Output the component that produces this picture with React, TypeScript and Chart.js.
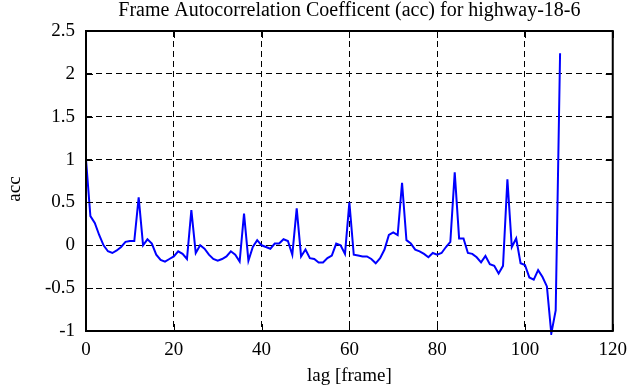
import React, { useEffect, useRef } from "react";
import { Chart, registerables } from "chart.js";

Chart.register(...registerables);

const TITLE = "Frame Autocorrelation Coefficent (acc) for highway-18-6";
const X_LABEL = "lag [frame]";
const Y_LABEL = "acc";
const X_TICKS = [0, 20, 40, 60, 80, 100, 120];
const Y_TICKS = [-1, -0.5, 0, 0.5, 1, 1.5, 2, 2.5];

// acc value for lag = index
const ACC = [
  1.0, 0.34, 0.26, 0.12, 0.0, -0.07, -0.09, -0.06, -0.02, 0.04,
  0.05, 0.05, 0.56, 0.0, 0.07, 0.02, -0.11, -0.17, -0.19, -0.16,
  -0.13, -0.07, -0.1, -0.16, 0.41, -0.09, 0.0, -0.04, -0.11, -0.16,
  -0.18, -0.16, -0.13, -0.07, -0.11, -0.19, 0.37, -0.18, -0.02, 0.06,
  0.0, -0.02, -0.04, 0.02, 0.02, 0.07, 0.05, -0.11, 0.43, -0.13,
  -0.05, -0.15, -0.16, -0.2, -0.2, -0.15, -0.12, 0.02, 0.0, -0.1,
  0.5, -0.11, -0.12, -0.13, -0.13, -0.16, -0.21, -0.15, -0.05, 0.12,
  0.15, 0.12, 0.73, 0.06, 0.02, -0.05, -0.07, -0.1, -0.14, -0.09,
  -0.11, -0.09, -0.02, 0.04, 0.85, 0.08, 0.08, -0.09, -0.1, -0.14,
  -0.2, -0.125, -0.22, -0.24, -0.33, -0.24, 0.77, -0.02, 0.08, -0.21,
  -0.23, -0.375, -0.4, -0.29, -0.37, -0.48, -1.03, -0.76, 2.24,
];

const FONT = "'Liberation Serif', 'DejaVu Serif', serif";

const frameTicks = {
  id: "frameTicks",
  afterDraw(chart: any) {
    const { ctx, chartArea: a, scales } = chart;
    const len = 7;
    ctx.save();
    ctx.strokeStyle = "#000";
    ctx.lineWidth = 1;
    ctx.setLineDash([]);
    ctx.beginPath();
    for (const t of X_TICKS) {
      const x = Math.round(scales.x.getPixelForValue(t)) + 0.5;
      ctx.moveTo(x, a.bottom);
      ctx.lineTo(x, a.bottom - len);
      ctx.moveTo(x, a.top);
      ctx.lineTo(x, a.top + len);
    }
    for (const t of Y_TICKS) {
      const y = Math.round(scales.y.getPixelForValue(t)) + 0.5;
      ctx.moveTo(a.left, y);
      ctx.lineTo(a.left + len, y);
      ctx.moveTo(a.right, y);
      ctx.lineTo(a.right - len, y);
    }
    ctx.stroke();
    ctx.lineWidth = 2;
    ctx.strokeRect(a.left, a.top, a.right - a.left, a.bottom - a.top);
    ctx.fillStyle = "#000";
    ctx.font = `20px ${FONT}`;
    ctx.textAlign = "center";
    ctx.textBaseline = "middle";
    ctx.fillText(TITLE, (a.left + a.right) / 2, 11);
    ctx.font = `19px ${FONT}`;
    ctx.fillText(X_LABEL, (a.left + a.right) / 2, 376);
    ctx.translate(15, (a.top + a.bottom) / 2 + 8);
    ctx.rotate(-Math.PI / 2);
    ctx.fillText(Y_LABEL, 0, 0);
    ctx.restore();
  },
};

export default function App() {
  const ref = useRef<HTMLCanvasElement>(null);
  useEffect(() => {
    const chart = new Chart(ref.current!, {
      type: "line",
      data: {
        datasets: [
          {
            data: ACC.map((v, i) => ({ x: i, y: v })),
            borderColor: "#0000ff",
            borderWidth: 2,
            pointRadius: 0,
            tension: 0,
            clip: 4,
          } as any,
        ],
      },
      options: {
        animation: false,
        responsive: false,
        maintainAspectRatio: false,
        layout: { padding: { top: 31, right: 22, left: 0, bottom: 0 } },
        plugins: { legend: { display: false }, tooltip: { enabled: false }, title: { display: false } },
        scales: {
          x: {
            type: "linear",
            min: 0,
            max: 120,
            afterBuildTicks: (s: any) => {
              s.ticks = X_TICKS.map((v) => ({ value: v }));
            },
            afterFit: (s: any) => {
              s.height = 56;
            },
            ticks: {
              color: "#000",
              font: { family: FONT, size: 19 },
              padding: 8,
              maxRotation: 0,
              callback: (v: any) => String(v),
            },
            grid: { color: "#000", lineWidth: 1, drawTicks: false },
            border: { display: false, dash: [6, 4] },
          },
          y: {
            type: "linear",
            min: -1,
            max: 2.5,
            afterBuildTicks: (s: any) => {
              s.ticks = Y_TICKS.map((v) => ({ value: v }));
            },
            afterFit: (s: any) => {
              s.width = 86;
            },
            ticks: {
              color: "#000",
              font: { family: FONT, size: 19 },
              padding: 11,
              callback: (v: any) => String(v),
            },
            grid: { color: "#000", lineWidth: 1, drawTicks: false },
            border: { display: false, dash: [6, 4] },
          },
        },
      } as any,
      plugins: [frameTicks],
    });
    return () => chart.destroy();
  }, []);
  return (
    <div style={{ position: "absolute", left: 0, top: 0, width: 635, height: 387, background: "#fff" }}>
      <canvas ref={ref} width={635} height={387} style={{ display: "block" }} />
    </div>
  );
}
